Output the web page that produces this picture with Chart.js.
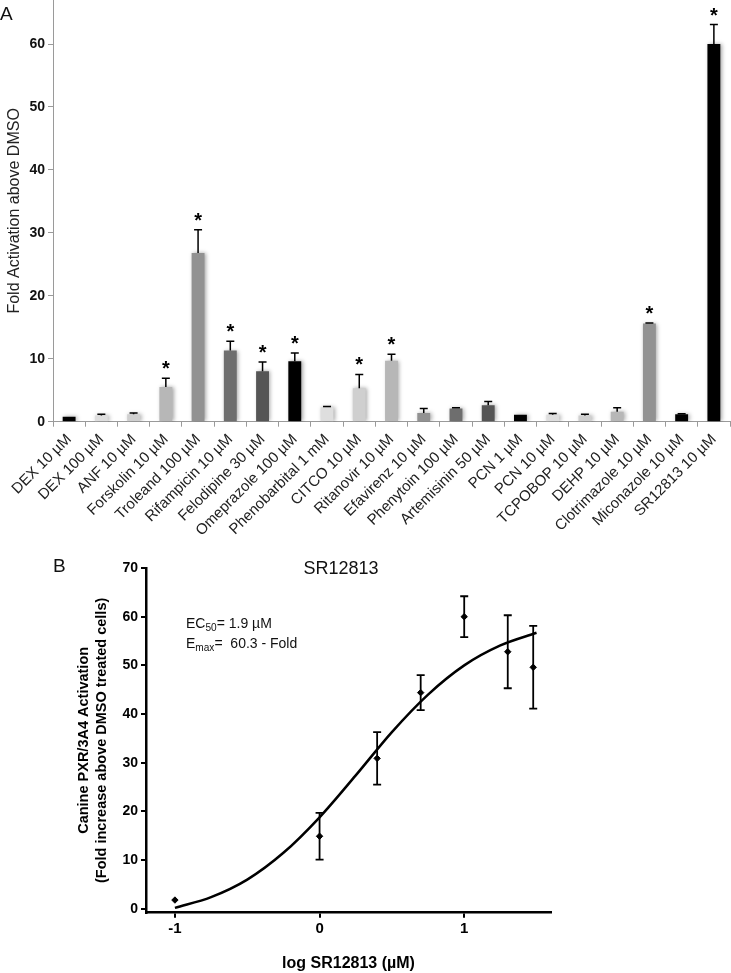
<!DOCTYPE html>
<html><head><meta charset="utf-8">
<script src="https://cdn.jsdelivr.net/npm/chart.js@4"></script>
<style>
html,body{margin:0;padding:0;background:#fff;width:731px;height:973px;overflow:hidden;font-family:'Liberation Sans',Arial,sans-serif;}
#wrapA{position:absolute;left:0;top:0;width:731px;height:545px;}
#wrapB{position:absolute;left:0;top:545px;width:731px;height:428px;}
.lbl{position:absolute;color:#111;white-space:nowrap;line-height:1;}
.sub{font-size:0.72em;position:relative;top:0.32em;}
</style></head><body>
<div id="wrapA"><canvas id="chartA" width="731" height="545"></canvas></div>
<div id="wrapB"><canvas id="chartB" width="731" height="428"></canvas></div>
<div class="lbl" style="left:0px;top:4px;font-size:19px;">A</div>
<div class="lbl" style="left:53px;top:556px;font-size:19px;">B</div>
<div class="lbl" style="left:341px;top:559px;font-size:18px;transform:translateX(-50%);">SR12813</div>
<div class="lbl" style="left:186px;top:616px;font-size:14px;">EC<span class="sub">50</span>= 1.9 µM</div>
<div class="lbl" style="left:186px;top:636px;font-size:14px;">E<span class="sub">max</span>=&nbsp; 60.3 - Fold</div>
<script>
// ---------- Panel A data ----------
const compounds = ['DEX 10 µM','DEX 100 µM','ANF 10 µM','Forskolin 10 µM','Troleand 100 µM','Rifampicin 10 µM','Felodipine 30 µM','Omeprazole 100 µM','Phenobarbital 1 mM','CITCO 10 µM','Ritanovir 10 µM','Efavirenz 10 µM','Phenytoin 100 µM','Artemisinin 50 µM','PCN 1 µM','PCN 10 µM','TCPOBOP 10 µM','DEHP 10 µM','Clotrimazole 10 µM','Miconazole 10 µM','SR12813 10 µM'];
const foldValues = [0.8, 1.0, 1.2, 5.5, 26.8, 11.3, 8.0, 9.6, 2.3, 5.3, 9.7, 1.4, 2.1, 2.6, 1.1, 1.1, 1.0, 1.6, 15.6, 1.2, 60.0];
const foldErrors = [0.0, 0.2, 0.2, 1.4, 3.7, 1.5, 1.5, 1.3, 0.1, 2.2, 1.0, 0.7, 0.1, 0.6, 0.0, 0.2, 0.2, 0.6, 0.1, 0.05, 3.1];
const significant = [false,false,false,true,true,true,true,true,false,true,true,false,false,false,false,false,false,false,true,false,true];
const yTicksA = [0,10,20,30,40,50,60];
const barColors = ['#000000','#dedede','#cfcfcf','#b7b7b7','#929292','#6e6e6e','#555555','#000000','#dedede','#cfcfcf','#b7b7b7','#929292','#6e6e6e','#555555','#000000','#dedede','#cfcfcf','#b7b7b7','#929292','#000000','#000000'];

// ---------- Panel B data ----------
const logConc = [-1, 0, 0.398, 0.699, 1, 1.301, 1.477];
const meanFold = [1.8, 14.9, 30.9, 44.4, 60.0, 52.8, 49.6];
const semFold = [0, 4.8, 5.4, 3.6, 4.2, 7.5, 8.5];
const curveX = [-1, -0.75, -0.5, -0.25, 0, 0.25, 0.5, 0.75, 1, 1.25, 1.5];
const curveY = [0.2, 2.4, 6.0, 11.5, 18.8, 27.4, 36.3, 44.0, 50.0, 54.1, 56.7];
const xTicksB = [-1, 0, 1];
const yTicksB = [0,10,20,30,40,50,60,70];

const FONT = "'Liberation Sans', Arial, sans-serif";

const barShadow = {
  id:'barShadow',
  beforeDatasetsDraw(chart){ const c=chart.ctx; c.save(); c.shadowColor='rgba(0,0,0,0.35)'; c.shadowBlur=4; c.shadowOffsetX=1.5; c.shadowOffsetY=0; },
  afterDatasetsDraw(chart){ chart.ctx.restore(); }
};
const errorBarsA = {
  id:'errorBarsA',
  afterDatasetsDraw(chart){
    const {ctx, scales:{x,y}} = chart;
    ctx.save();
    ctx.strokeStyle='#000'; ctx.lineWidth=1.5; ctx.fillStyle='#000';
    ctx.font = 'bold 20px ' + FONT; ctx.textAlign='center'; ctx.textBaseline='alphabetic';
    foldValues.forEach((v,i)=>{
      const cx = x.getPixelForValue(i);
      const e = foldErrors[i];
      const yTop = y.getPixelForValue(v+e);
      if (e>0){
        ctx.beginPath();
        ctx.moveTo(cx, y.getPixelForValue(v)); ctx.lineTo(cx, yTop);
        ctx.moveTo(cx-4, yTop); ctx.lineTo(cx+4, yTop);
        ctx.stroke();
      }
      if (significant[i]) ctx.fillText('*', cx, yTop-3);
    });
    ctx.restore();
  }
};

new Chart(document.getElementById('chartA'), {
  type:'bar',
  data:{ labels: compounds, datasets:[{ data: foldValues, backgroundColor: barColors, borderWidth:0, barPercentage:0.4, categoryPercentage:1.0 }]},
  options:{
    responsive:false, animation:false, devicePixelRatio:1,
    layout:{padding:{left:0,right:1,top:0,bottom:0}},
    plugins:{legend:{display:false}, tooltip:{enabled:false}},
    scales:{
      x:{
        grid:{display:true, drawOnChartArea:false, drawTicks:true, tickLength:5, color:'#9a9a9a', offset:true},
        border:{color:'#9a9a9a', width:1},
        ticks:{autoSkip:false, maxRotation:45, minRotation:45, padding:4, color:'#222', font:{family:FONT, size:15}},
        afterFit(s){ s.height = 545-421.7; s.paddingLeft=0; s.paddingRight=0; }
      },
      y:{
        min:0, max:67,
        grid:{display:true, drawOnChartArea:false, drawTicks:true, tickLength:5, color:'#9a9a9a'},
        border:{color:'#9a9a9a', width:1},
        ticks:{padding:3, color:'#111', font:{family:FONT, size:14, weight:'bold'}},
        afterBuildTicks(s){ s.ticks = yTicksA.map(v=>({value:v})); },
        title:{display:true, text:'Fold Activation above DMSO', color:'#222', font:{family:FONT, size:16}, padding:{top:5,bottom:0}},
        afterFit(s){ s.width = 53; s.paddingTop=0; s.paddingBottom=0; }
      }
    }
  },
  plugins:[barShadow, errorBarsA]
});

const errorBarsB = {
  id:'errorBarsB',
  afterDatasetsDraw(chart){
    const {ctx, scales:{x,y}} = chart;
    ctx.save(); ctx.strokeStyle='#000'; ctx.lineWidth=1.8;
    logConc.forEach((c,i)=>{
      const e = semFold[i]; if(!e) return;
      const px = x.getPixelForValue(c);
      const yt = y.getPixelForValue(meanFold[i]+e), yb = y.getPixelForValue(meanFold[i]-e);
      ctx.beginPath();
      ctx.moveTo(px,yt); ctx.lineTo(px,yb);
      ctx.moveTo(px-4,yt); ctx.lineTo(px+4,yt);
      ctx.moveTo(px-4,yb); ctx.lineTo(px+4,yb);
      ctx.stroke();
    });
    ctx.restore();
  }
};

new Chart(document.getElementById('chartB'), {
  type:'scatter',
  data:{ datasets:[
    { data: curveX.map((v,i)=>({x:v, y:curveY[i]})), showLine:true, borderColor:'#000', borderWidth:2.5, pointRadius:0, cubicInterpolationMode:'monotone', fill:false },
    { data: logConc.map((v,i)=>({x:v, y:meanFold[i]})), backgroundColor:'#000', borderColor:'#000', pointStyle:'rectRot', pointRadius:3.2, showLine:false }
  ]},
  options:{
    responsive:false, animation:false, devicePixelRatio:1,
    layout:{padding:{left:0,right:180,top:23,bottom:0}},
    plugins:{legend:{display:false}, tooltip:{enabled:false}},
    scales:{
      x:{
        type:'linear', min:-1.2, max:1.6,
        grid:{display:true, drawOnChartArea:false, drawTicks:true, tickLength:5, color:'#000', lineWidth:2},
        border:{color:'#000', width:2.5},
        ticks:{padding:2, color:'#000', font:{family:FONT, size:15, weight:'bold'}},
        afterBuildTicks(s){ s.ticks = xTicksB.map(v=>({value:v})); },
        title:{display:true, text:'log SR12813 (µM)', color:'#000', font:{family:FONT, size:16, weight:'bold'}, padding:{top:0,bottom:0}},
        afterFit(s){ s.height = 428-367.7; s.paddingLeft=0; s.paddingRight=0; }
      },
      y:{
        type:'linear', min:-0.8, max:70,
        grid:{display:true, drawOnChartArea:false, drawTicks:true, tickLength:5, color:'#000', lineWidth:2},
        border:{color:'#000', width:2.5},
        ticks:{padding:3, color:'#000', font:{family:FONT, size:14, weight:'bold'}},
        afterBuildTicks(s){ s.ticks = yTicksB.map(v=>({value:v})); },
        title:{display:true, text:['Canine PXR/3A4 Activation','(Fold increase above DMSO treated cells)'], color:'#000', font:{family:FONT, size:14.5, weight:'bold', lineHeight:'18px'}, padding:{top:75,bottom:0}},
        afterFit(s){ s.width = 146; s.paddingTop=0; s.paddingBottom=0; }
      }
    }
  },
  plugins:[errorBarsB]
});
</script>
</body></html>
